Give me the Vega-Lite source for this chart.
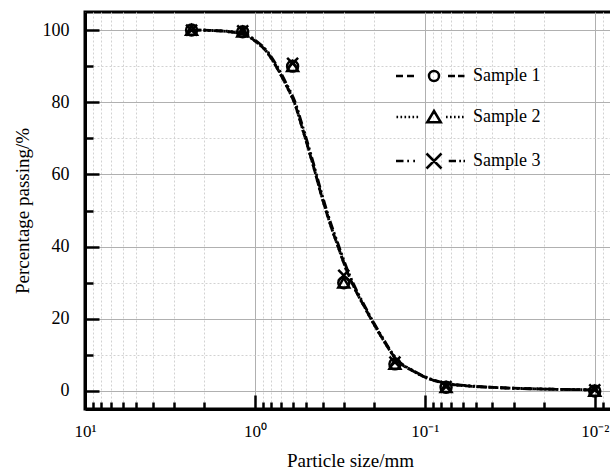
{
  "$schema": "https://vega.github.io/schema/vega-lite/v6.json",
  "autosize": "none",
  "padding": {"left": 85, "top": 12, "right": 0, "bottom": 61},
  "width": 530,
  "height": 397,
  "background": "white",
  "config": {
    "font": "Liberation Serif",
    "view": {"stroke": "black", "strokeWidth": 3}
  },
  "datasets": {
    "curve": [
      {"series": "Sample 1", "size": 2.36, "pass": 100},
      {"series": "Sample 1", "size": 1.84, "pass": 99.9},
      {"series": "Sample 1", "size": 1.40, "pass": 99.5},
      {"series": "Sample 1", "size": 1.12, "pass": 98.5},
      {"series": "Sample 1", "size": 0.977, "pass": 96.6},
      {"series": "Sample 1", "size": 0.853, "pass": 94.0},
      {"series": "Sample 1", "size": 0.745, "pass": 89.7},
      {"series": "Sample 1", "size": 0.651, "pass": 84.5},
      {"series": "Sample 1", "size": 0.582, "pass": 79.5},
      {"series": "Sample 1", "size": 0.520, "pass": 72},
      {"series": "Sample 1", "size": 0.454, "pass": 62.5},
      {"series": "Sample 1", "size": 0.405, "pass": 54},
      {"series": "Sample 1", "size": 0.362, "pass": 46.5},
      {"series": "Sample 1", "size": 0.324, "pass": 40},
      {"series": "Sample 1", "size": 0.289, "pass": 33.5},
      {"series": "Sample 1", "size": 0.247, "pass": 26.5},
      {"series": "Sample 1", "size": 0.231, "pass": 24},
      {"series": "Sample 1", "size": 0.201, "pass": 18.8},
      {"series": "Sample 1", "size": 0.176, "pass": 14.2},
      {"series": "Sample 1", "size": 0.147, "pass": 8.7},
      {"series": "Sample 1", "size": 0.117, "pass": 5.5},
      {"series": "Sample 1", "size": 0.0935, "pass": 3.3},
      {"series": "Sample 1", "size": 0.0745, "pass": 2.0},
      {"series": "Sample 1", "size": 0.0568, "pass": 1.4},
      {"series": "Sample 1", "size": 0.0362, "pass": 0.9},
      {"series": "Sample 1", "size": 0.0184, "pass": 0.5},
      {"series": "Sample 1", "size": 0.01, "pass": 0.3},
      {"series": "Sample 2", "size": 2.36, "pass": 100},
      {"series": "Sample 2", "size": 1.84, "pass": 99.9},
      {"series": "Sample 2", "size": 1.40, "pass": 99.5},
      {"series": "Sample 2", "size": 1.12, "pass": 98.5},
      {"series": "Sample 2", "size": 0.977, "pass": 96.6},
      {"series": "Sample 2", "size": 0.853, "pass": 94.0},
      {"series": "Sample 2", "size": 0.745, "pass": 89.7},
      {"series": "Sample 2", "size": 0.651, "pass": 84.5},
      {"series": "Sample 2", "size": 0.582, "pass": 79.5},
      {"series": "Sample 2", "size": 0.520, "pass": 72},
      {"series": "Sample 2", "size": 0.454, "pass": 62.5},
      {"series": "Sample 2", "size": 0.405, "pass": 54},
      {"series": "Sample 2", "size": 0.362, "pass": 46.5},
      {"series": "Sample 2", "size": 0.324, "pass": 40},
      {"series": "Sample 2", "size": 0.289, "pass": 33.5},
      {"series": "Sample 2", "size": 0.247, "pass": 26.5},
      {"series": "Sample 2", "size": 0.231, "pass": 24},
      {"series": "Sample 2", "size": 0.201, "pass": 18.8},
      {"series": "Sample 2", "size": 0.176, "pass": 14.2},
      {"series": "Sample 2", "size": 0.147, "pass": 8.7},
      {"series": "Sample 2", "size": 0.117, "pass": 5.5},
      {"series": "Sample 2", "size": 0.0935, "pass": 3.3},
      {"series": "Sample 2", "size": 0.0745, "pass": 2.0},
      {"series": "Sample 2", "size": 0.0568, "pass": 1.4},
      {"series": "Sample 2", "size": 0.0362, "pass": 0.9},
      {"series": "Sample 2", "size": 0.0184, "pass": 0.5},
      {"series": "Sample 2", "size": 0.01, "pass": 0.3},
      {"series": "Sample 3", "size": 2.36, "pass": 100},
      {"series": "Sample 3", "size": 1.84, "pass": 99.9},
      {"series": "Sample 3", "size": 1.40, "pass": 99.6},
      {"series": "Sample 3", "size": 1.12, "pass": 98.7},
      {"series": "Sample 3", "size": 0.977, "pass": 96.9},
      {"series": "Sample 3", "size": 0.853, "pass": 94.3},
      {"series": "Sample 3", "size": 0.745, "pass": 90.2},
      {"series": "Sample 3", "size": 0.651, "pass": 85.0},
      {"series": "Sample 3", "size": 0.582, "pass": 80.2},
      {"series": "Sample 3", "size": 0.520, "pass": 72.8},
      {"series": "Sample 3", "size": 0.454, "pass": 63.3},
      {"series": "Sample 3", "size": 0.405, "pass": 54.8},
      {"series": "Sample 3", "size": 0.362, "pass": 47.2},
      {"series": "Sample 3", "size": 0.324, "pass": 40.7},
      {"series": "Sample 3", "size": 0.289, "pass": 34.2},
      {"series": "Sample 3", "size": 0.247, "pass": 27.0},
      {"series": "Sample 3", "size": 0.231, "pass": 24.4},
      {"series": "Sample 3", "size": 0.201, "pass": 19.1},
      {"series": "Sample 3", "size": 0.176, "pass": 14.5},
      {"series": "Sample 3", "size": 0.147, "pass": 8.9},
      {"series": "Sample 3", "size": 0.117, "pass": 5.6},
      {"series": "Sample 3", "size": 0.0935, "pass": 3.4},
      {"series": "Sample 3", "size": 0.0745, "pass": 2.1},
      {"series": "Sample 3", "size": 0.0568, "pass": 1.5},
      {"series": "Sample 3", "size": 0.0362, "pass": 0.9},
      {"series": "Sample 3", "size": 0.0184, "pass": 0.5},
      {"series": "Sample 3", "size": 0.01, "pass": 0.3}
    ],
    "points": [
      {"sample": "Sample 1", "size": 2.36, "pass": 100},
      {"sample": "Sample 1", "size": 1.18, "pass": 99.5},
      {"sample": "Sample 1", "size": 0.6, "pass": 90},
      {"sample": "Sample 1", "size": 0.3, "pass": 30},
      {"sample": "Sample 1", "size": 0.15, "pass": 7.5},
      {"sample": "Sample 1", "size": 0.075, "pass": 1},
      {"sample": "Sample 1", "size": 0.01, "pass": 0},
      {"sample": "Sample 2", "size": 2.36, "pass": 100},
      {"sample": "Sample 2", "size": 1.18, "pass": 99.5},
      {"sample": "Sample 2", "size": 0.6, "pass": 90},
      {"sample": "Sample 2", "size": 0.3, "pass": 30},
      {"sample": "Sample 2", "size": 0.15, "pass": 7.5},
      {"sample": "Sample 2", "size": 0.075, "pass": 1},
      {"sample": "Sample 2", "size": 0.01, "pass": 0},
      {"sample": "Sample 3", "size": 2.36, "pass": 100},
      {"sample": "Sample 3", "size": 1.18, "pass": 99.8},
      {"sample": "Sample 3", "size": 0.6, "pass": 90.8},
      {"sample": "Sample 3", "size": 0.3, "pass": 32},
      {"sample": "Sample 3", "size": 0.15, "pass": 8},
      {"sample": "Sample 3", "size": 0.075, "pass": 1.2},
      {"sample": "Sample 3", "size": 0.01, "pass": 0.3}
    ]
  },
  "encoding": {
    "x": {
      "field": "size", "type": "quantitative",
      "scale": {"type": "log", "domain": [0.0076, 10], "reverse": true, "nice": false},
      "axis": {
        "title": "Particle size/mm",
        "values": [10, 9, 8, 7, 6, 5, 4, 3, 2, 1, 0.9, 0.8, 0.7, 0.6, 0.5, 0.4, 0.3, 0.2, 0.1, 0.09, 0.08, 0.07, 0.06, 0.05, 0.04, 0.03, 0.02, 0.01, 0.009],
        "labelExpr": "datum.value == 10 ? '10¹' : datum.value == 1 ? '10⁰' : datum.value == 0.1 ? '10⁻¹' : datum.value == 0.01 ? '10⁻²' : ''",
        "labelFont": "Liberation Serif", "labelFontSize": 17, "labelColor": "black",
        "labelOverlap": false, "labelBound": false, "labelFlush": false,
        "labelPadding": 28,
        "tickSize": {"condition": {"test": "datum.value == 10 || datum.value == 1 || datum.value == 0.1 || datum.value == 0.01", "value": -14}, "value": -7},
        "tickWidth": 2.5, "tickColor": "black",
        "domainColor": "black", "domainWidth": 3,
        "grid": true,
        "gridColor": {"condition": {"test": "datum.value == 10 || datum.value == 1 || datum.value == 0.1 || datum.value == 0.01", "value": "#b0b0b0"}, "value": "#d2d2d2"},
        "gridDash": {"condition": {"test": "datum.value == 10 || datum.value == 1 || datum.value == 0.1 || datum.value == 0.01", "value": []}, "value": [2, 2]},
        "gridWidth": 1,
        "titleFont": "Liberation Serif", "titleFontSize": 19, "titleFontWeight": "normal", "titleColor": "black", "titlePadding": 5
      }
    },
    "y": {
      "field": "pass", "type": "quantitative",
      "scale": {"domain": [-5, 105], "nice": false, "zero": false},
      "axis": {
        "title": "Percentage passing/%",
        "values": [0, 10, 20, 30, 40, 50, 60, 70, 80, 90, 100],
        "labelExpr": "datum.value % 20 == 0 ? datum.label : ''",
        "labelFont": "Liberation Serif", "labelFontSize": 18, "labelColor": "black",
        "labelOverlap": false, "labelBound": false, "labelFlush": false,
        "labelPadding": 30,
        "tickSize": {"condition": {"test": "datum.value % 20 == 0", "value": -14}, "value": -8},
        "tickWidth": 2.5, "tickColor": "black",
        "domainColor": "black", "domainWidth": 3,
        "grid": true,
        "gridColor": {"condition": {"test": "datum.value % 20 == 0", "value": "#b0b0b0"}, "value": "#d2d2d2"},
        "gridDash": {"condition": {"test": "datum.value % 20 == 0", "value": []}, "value": [2, 2]},
        "gridWidth": 1,
        "titleFont": "Liberation Serif", "titleFontSize": 19, "titleFontWeight": "normal", "titleColor": "black", "titlePadding": 10
      }
    }
  },
  "layer": [
    {
      "data": {"name": "curve"},
      "mark": {"type": "line", "interpolate": "monotone", "color": "black", "strokeWidth": 2.8},
      "encoding": {
        "strokeDash": {
          "field": "series", "type": "nominal",
          "scale": {"range": [[8, 4], [2, 2], [9, 3, 2, 3, 2, 3]]},
          "legend": null
        }
      }
    },
    {
      "data": {"name": "points"},
      "mark": {"type": "point", "filled": false, "color": "black", "strokeWidth": 2.5, "size": 120, "opacity": 1},
      "encoding": {
        "shape": {
          "field": "sample", "type": "nominal",
          "scale": {"domain": ["Sample 1", "Sample 2", "Sample 3"], "range": ["circle", "triangle-up", "M-1,-1L1,1M-1,1L1,-1"]},
          "legend": null
        }
      }
    },
    {
      "data": {"name": "points"},
      "mark": {"type": "point", "filled": false, "color": "black", "strokeWidth": 2.5, "size": 100, "opacity": 0},
      "encoding": {
        "shape": {
          "field": "sample", "type": "nominal",
          "scale": {
            "domain": ["Sample 1", "Sample 2", "Sample 3"],
            "range": [
              "M-7.6,0L-6.2,0M-5.4,0L-4,0M2.8,0L4.2,0M4.8,0L6.1,0M1,0A1,1,0,1,1,-1,0A1,1,0,1,1,1,0Z",
              "M-7.5,0L-7.18,0M-6.7,0L-6.38,0M-5.9,0L-5.58,0M-5.1,0L-4.78,0M-4.3,0L-3.98,0M-3.5,0L-3.18,0M0,-1.2L1.35,1.05L-1.35,1.05ZM2.4,0L2.72,0M3.2,0L3.52,0M4,0L4.32,0M4.8,0L5.12,0M5.6,0L5.92,0",
              "M-7.6,0L-6.1,0M-5.35,0L-5,0M-4.15,0L-3.8,0M-1.5,-1.5L1.5,1.5M-1.5,1.5L1.5,-1.5M2.95,0L4.4,0M5.05,0L5.4,0M5.9,0L6.2,0"
            ]
          },
          "legend": {
            "orient": "none", "legendX": 340, "legendY": 55,
            "title": null,
            "symbolSize": 100, "symbolStrokeWidth": 2.5, "symbolStrokeColor": "black", "symbolFillColor": "transparent", "symbolOpacity": 1,
            "labelFont": "Liberation Serif", "labelFontSize": 18, "labelColor": "black", "labelOffset": 30, "labelLimit": 0,
            "rowPadding": 20, "padding": 0
          }
        }
      }
    }
  ],
  "resolve": {"scale": {"shape": "independent"}}
}
